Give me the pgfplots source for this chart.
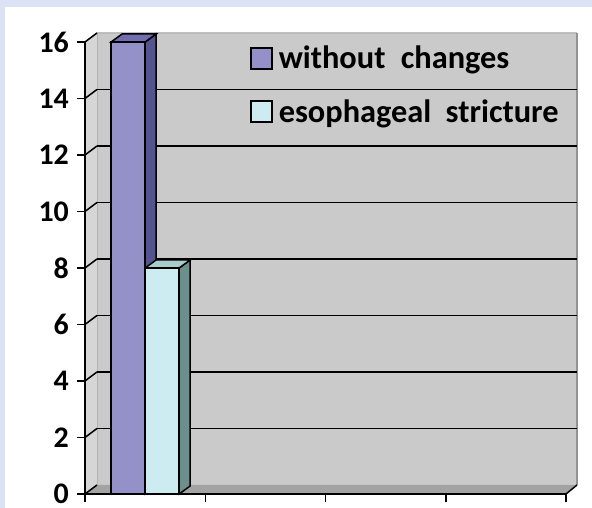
\documentclass[border=0pt]{standalone}
\usepackage{pgfplots}
\pgfplotsset{compat=1.18}
\usepackage{fontspec}
\setmainfont{Carlito}
\definecolor{bgblue}{RGB}{218,226,244}
\definecolor{wall}{RGB}{202,202,202}
\definecolor{leftwall}{RGB}{214,214,214}
\definecolor{floorc}{RGB}{163,163,163}
\definecolor{bara}{RGB}{148,144,200}
\definecolor{baraside}{RGB}{84,84,144}
\definecolor{baratop}{RGB}{112,110,176}
\definecolor{barb}{RGB}{204,236,242}
\definecolor{barbside}{RGB}{106,143,140}
\definecolor{barbtop}{RGB}{168,204,204}
\begin{document}
\begin{tikzpicture}[x=1bp,y=1bp]
\useasboundingbox (0,0) rectangle (592,508);
\fill[bgblue] (0,0) rectangle (592,508);
\fill[white] (5,0) rectangle (592,501);
% 3D walls
\fill[leftwall] (85,14) -- (97,23) -- (97,475) -- (85,466) -- cycle;
\fill[wall] (97,23) rectangle (577,475);
\fill[floorc] (85,14) -- (566,14) -- (577,23) -- (97,23) -- cycle;
\draw[gray!75, line width=1bp] (85,466) -- (97,475) -- (577,475);
\draw[gray!85, line width=2.5bp] (577,475) -- (577,23);
\draw[black, line width=1.5bp] (577,23) -- (566,14);
\draw[gray!60, line width=1bp] (97,23) -- (97,475);
\foreach \v in {0,2,...,16} {
  \pgfmathsetmacro{\yy}{14+\v*28.25}
  \draw[line width=1.5bp] (85,\yy) -- (97,\yy+9);
}
\foreach \v in {2,4,...,14} {
  \pgfmathsetmacro{\yy}{14+\v*28.25}
  \draw[line width=1.6bp] (97,\yy+9) -- (577,\yy+9);
}
\begin{axis}[
  at={(85bp,14bp)}, anchor=south west,
  width=481bp, height=452bp, scale only axis,
  xmin=0, xmax=4, ymin=0, ymax=16,
  axis x line*=bottom, axis y line*=left,
  axis line style={line width=1.5bp, black},
  xtick={0,1,2,3,4}, xticklabels={},
  ytick={0,2,...,16},
  tick style={line width=1.5bp, black},
  major tick length=8bp, tick align=outside,
  yticklabel style={font=\fontsize{30}{31}\selectfont\bfseries, inner sep=1bp, xshift=-7bp},
  /pgf/number format/assume math mode=true,
  ybar=0pt, bar width=0.283,
  clip=false,
  legend style={at={(0.337,1.0)}, anchor=north west, draw=none, fill=none,
    font=\fontsize{32.5}{33}\selectfont\bfseries, row sep=25bp},
  legend cell align=left,
]
% 3D faces of bars (decoration tied to the data values)
\filldraw[fill=baraside, draw=black, line width=1.5bp] (axis cs:0.5,0) -- (axis cs:0.5,16) -- ([shift={(11bp,8bp)}]axis cs:0.5,16) -- ([shift={(11bp,8bp)}]axis cs:0.5,0) -- cycle;
\filldraw[fill=baratop, draw=black, line width=1.5bp] (axis cs:0.217,16) -- (axis cs:0.5,16) -- ([shift={(11bp,8bp)}]axis cs:0.5,16) -- ([shift={(11bp,8bp)}]axis cs:0.217,16) -- cycle;
\filldraw[fill=barbside, draw=black, line width=1.5bp] (axis cs:0.783,0) -- (axis cs:0.783,8) -- ([shift={(11bp,8bp)}]axis cs:0.783,8) -- ([shift={(11bp,8bp)}]axis cs:0.783,0) -- cycle;
\filldraw[fill=barbtop, draw=black, line width=1.5bp] (axis cs:0.5,8) -- (axis cs:0.783,8) -- ([shift={(11bp,8bp)}]axis cs:0.783,8) -- ([shift={(11bp,8bp)}]axis cs:0.5,8) -- cycle;
\addplot[fill=bara, draw=black, line width=1.5bp,
  legend image code/.code={\draw[fill=bara,draw=black,line width=1.5bp] (0bp,-10.5bp) rectangle (21bp,10.5bp); \path (25bp,0bp);}]
  coordinates {(0.5,16)};
\addplot[fill=barb, draw=black, line width=1.5bp,
  legend image code/.code={\draw[fill=barb,draw=black,line width=1.5bp] (0bp,-10.5bp) rectangle (21bp,10.5bp); \path (25bp,0bp);}]
  coordinates {(0.5,8)};
\legend{without\hspace{8bp} changes, esophageal\hspace{7bp} stricture}
\end{axis}
\end{tikzpicture}
\end{document}
